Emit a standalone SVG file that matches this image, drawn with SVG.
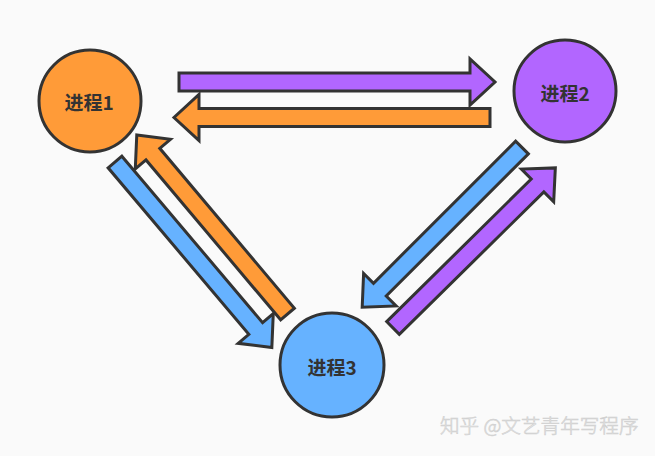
<svg xmlns="http://www.w3.org/2000/svg" width="655" height="456" viewBox="0 0 655 456">
<style>
.o{fill:#FF9B38}.p{fill:#B266FF}.b{fill:#66B2FF}
.arr polygon,.node circle{stroke:#333333;stroke-width:3;stroke-linejoin:miter}
.lbl{font-family:"Noto Sans CJK SC","Liberation Sans",sans-serif;font-weight:bold;font-size:19px;fill:#333333;text-anchor:middle;dominant-baseline:central}
.wm{font-family:"Noto Sans CJK SC",sans-serif;font-weight:300;font-size:19.6px;fill:#ececec;stroke:#cfcfcf;stroke-width:0.6}
</style>
<rect width="655" height="456" fill="#FAFAFA"/>
<g id="connectors" class="arr">
<polygon class="p" transform="translate(179,82)" points="0,-9 291,-9 291,-23 316,0 291,23 291,9 0,9"/>
<polygon class="o" transform="translate(490,117.5) rotate(180)" points="0,-9 291,-9 291,-23 316,0 291,23 291,9 0,9"/>
<polygon class="b" transform="translate(115,162) rotate(49.8)" points="0,-9 218,-9 218,-23 243,0 218,23 218,9 0,9"/>
<polygon class="o" transform="translate(287.5,314) rotate(-130.1)" points="0,-9 209,-9 209,-23 234,0 209,23 209,9 0,9"/>
<polygon class="b" transform="translate(522,147.5) rotate(135)" points="0,-9 201,-9 201,-23 226,0 201,23 201,9 0,9"/>
<polygon class="p" transform="translate(393,328) rotate(-44.6)" points="0,-9 203,-9 203,-23 228,0 203,23 203,9 0,9"/>
</g>
<g id="node1" class="node">
<circle class="o" cx="90" cy="101" r="51"/>
<text class="lbl" x="89" y="101">进程1</text>
</g>
<g id="node2" class="node">
<circle class="p" cx="565" cy="91" r="51"/>
<text class="lbl" x="565" y="92">进程2</text>
</g>
<g id="node3" class="node">
<circle class="b" cx="332" cy="365" r="52"/>
<text class="lbl" x="332" y="366">进程3</text>
</g>
<text class="wm" x="440" y="433">知乎 @文艺青年写程序</text>
</svg>
